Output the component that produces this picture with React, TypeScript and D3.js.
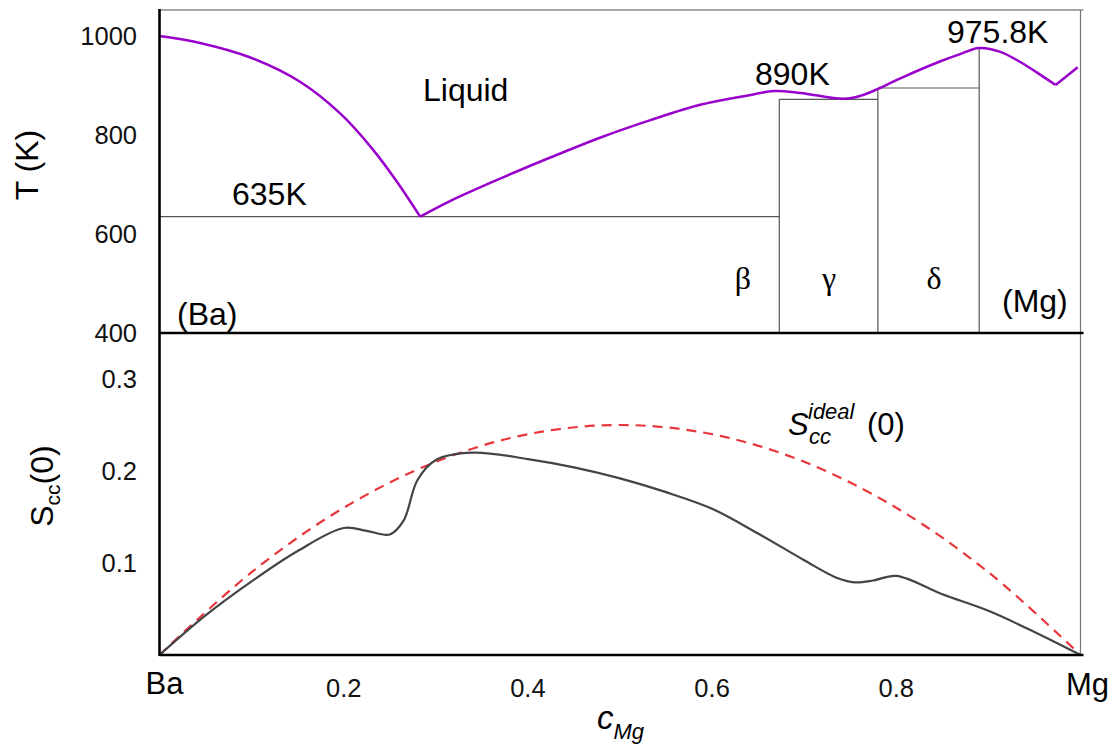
import React from "react";
import * as d3 from "d3";

// ---------- data ----------
// Liquidus (phase diagram, top panel)
const liqC = [0, 0.044, 0.098, 0.153, 0.197, 0.232, 0.258, 0.283, 0.316, 0.37, 0.425, 0.479, 0.533, 0.587, 0.642, 0.667, 0.696, 0.743, 0.761, 0.78, 0.805, 0.848, 0.87, 0.89, 0.913, 0.935, 0.957, 0.973, 0.997];
const liqT = [1000, 986, 957, 907, 842, 770, 705, 635, 667, 712, 755, 795, 830, 861, 881, 889, 885, 873, 879, 893, 915, 949, 964, 975.8, 968, 947, 921, 901, 937];
const liqKinks = [7, 27]; // indices of sharp eutectic minima

// invariant horizontal lines (c from, c to, T)
const hLineC0 = [0, 0.673, 0.78];
const hLineC1 = [0.673, 0.78, 0.89];
const hLineT = [635, 872, 895];
// compound vertical lines (c, top T)
const vLineC = [0.673, 0.78, 0.89];
const vLineT = [872, 895, 975.8];

// Scc(0) (bottom panel)
const sccC = [0, 0.05, 0.1, 0.15, 0.2, 0.225, 0.25, 0.265, 0.28, 0.3, 0.34, 0.4, 0.45, 0.5, 0.55, 0.6, 0.65, 0.7, 0.735, 0.755, 0.775, 0.8, 0.85, 0.9, 0.95, 1];
const sccV = [0, 0.043, 0.08, 0.113, 0.138, 0.135, 0.131, 0.146, 0.19, 0.212, 0.22, 0.213, 0.204, 0.192, 0.177, 0.159, 0.132, 0.103, 0.084, 0.079, 0.081, 0.086, 0.066, 0.048, 0.025, 0];
const idealC = [0, 0.1, 0.2, 0.3, 0.4, 0.5, 0.6, 0.7, 0.8, 0.9, 1];
const idealV = [0, 0.09, 0.16, 0.21, 0.24, 0.25, 0.24, 0.21, 0.16, 0.09, 0];

// tick labels
const tTicks = [1000, 800, 600, 400];
const sTicks = [0.3, 0.2, 0.1];
const cTicks = [0.2, 0.4, 0.6, 0.8];

// ---------- chart ----------
const W = 1117;
const H = 745;
const FONT = "'Liberation Sans', Arial, Helvetica, sans-serif";
const SERIF = "'Liberation Serif', 'Times New Roman', serif";

export default function App() {
  const x = d3.scaleLinear().domain([0, 1]).range([159.5, 1080.5]);
  const yT = d3.scaleLinear().domain([400, 1000]).range([333, 36]);
  const yS = d3.scaleLinear().domain([0, 0.3]).range([655, 379]);

  const tTop = 1052.5;

  // liquidus split at kinks
  const liqPts = liqC.map((c, i) => [c, liqT[i]] as [number, number]);
  const bounds = [0, ...liqKinks, liqPts.length - 1];
  const liqLine = d3
    .line<[number, number]>()
    .x((d) => x(d[0]))
    .y((d) => yT(d[1]))
    .curve(d3.curveCatmullRom.alpha(0.5));
  const liqPaths: string[] = [];
  for (let i = 0; i < bounds.length - 1; i++) {
    liqPaths.push(liqLine(liqPts.slice(bounds[i], bounds[i + 1] + 1)) || "");
  }

  const sccLine = d3
    .line<number>()
    .x((_, i) => x(sccC[i]))
    .y((d) => yS(d))
    .curve(d3.curveCatmullRom.alpha(0.5));
  const idealLine = d3
    .line<number>()
    .x((_, i) => x(idealC[i]))
    .y((d) => yS(d))
    .curve(d3.curveCatmullRom.alpha(0.5));

  const gray = "#555";

  return (
    <svg
      width={W}
      height={H}
      style={{ position: "absolute", left: 0, top: 0, background: "#fff" }}
      fontFamily={FONT}
    >
      <rect x={0} y={0} width={W} height={H} fill="#fff" />

      {/* frame lines */}
      <line x1={x(0)} x2={x(1) + 3} y1={yT(tTop)} y2={yT(tTop)} stroke={gray} strokeWidth={1.2} />
      <line x1={x(1)} x2={x(1)} y1={yT(tTop)} y2={yS(0)} stroke="#777" strokeWidth={1.2} />

      {/* invariant lines */}
      {hLineT.map((t, i) => (
        <line key={"h" + i} x1={x(hLineC0[i])} x2={x(hLineC1[i])} y1={yT(t)} y2={yT(t)} stroke={gray} strokeWidth={1.2} />
      ))}
      {vLineC.map((c, i) => (
        <line key={"v" + i} x1={x(c)} x2={x(c)} y1={yT(400)} y2={yT(vLineT[i])} stroke={gray} strokeWidth={1.2} />
      ))}

      {/* liquidus */}
      {liqPaths.map((p, i) => (
        <path key={"l" + i} d={p} fill="none" stroke="#9900CC" strokeWidth={2.5} strokeLinejoin="round" />
      ))}

      {/* bottom panel curves */}
      <path d={idealLine(idealV) || ""} fill="none" stroke="#E8373C" strokeWidth={2.2} strokeDasharray="10,7" />
      <path d={sccLine(sccV) || ""} fill="none" stroke="#444" strokeWidth={2.2} />

      {/* axes (thick) */}
      <line x1={x(0)} x2={x(0)} y1={yT(tTop) - 1} y2={yS(0) + 1} stroke="#000" strokeWidth={2.6} />
      <line x1={x(0)} x2={x(1) + 3} y1={yT(400)} y2={yT(400)} stroke="#000" strokeWidth={2.6} />
      <line x1={x(0)} x2={x(1) + 3} y1={yS(0)} y2={yS(0)} stroke="#000" strokeWidth={2.6} />

      {/* T ticks */}
      {tTicks.map((t) => (
        <text key={"tt" + t} x={137} y={yT(t)} dy="0.36em" textAnchor="end" fontSize={25.5} fill="#111">
          {t}
        </text>
      ))}
      {/* S ticks */}
      {sTicks.map((s) => (
        <text key={"st" + s} x={137} y={yS(s)} dy="0.36em" textAnchor="end" fontSize={25.5} fill="#111">
          {s.toFixed(1)}
        </text>
      ))}
      {/* c ticks */}
      {cTicks.map((c) => (
        <text key={"ct" + c} x={x(c)} y={697} textAnchor="middle" fontSize={25.5} fill="#111">
          {c.toFixed(1)}
        </text>
      ))}
      <text x={x(0) + 5} y={694} textAnchor="middle" fontSize={31} fill="#000">Ba</text>
      <text x={x(1) + 7} y={695} textAnchor="middle" fontSize={31} fill="#000">Mg</text>

      {/* axis titles */}
      <text transform="translate(38,165) rotate(-90)" textAnchor="middle" fontSize={32} fill="#000">
        T (K)
      </text>
      <text transform="translate(53,486) rotate(-90)" textAnchor="middle" fontSize={32} fill="#000">
        S
        <tspan fontSize={21} dy={7}>cc</tspan>
        <tspan fontSize={32} dy={-7}>(0)</tspan>
      </text>
      <text x={597} y={729} fontSize={33} fontStyle="italic" fill="#000">
        c
        <tspan fontSize={22} dy={10}>Mg</tspan>
      </text>

      {/* annotations */}
      <text x={423} y={101} fontSize={32} fill="#000">Liquid</text>
      <text x={232} y={205} fontSize={32} fill="#000">635K</text>
      <text x={755} y={85} fontSize={32} fill="#000">890K</text>
      <text x={947} y={43} fontSize={32} fill="#000">975.8K</text>
      <text x={177} y={325} fontSize={32} fill="#000">(Ba)</text>
      <text x={1002} y={312} fontSize={32} fill="#000">(Mg)</text>
      <text x={743} y={289} textAnchor="middle" fontSize={32} fontFamily={SERIF} fill="#000">β</text>
      <text x={829} y={289} textAnchor="middle" fontSize={32} fontFamily={SERIF} fill="#000">γ</text>
      <text x={934} y={289} textAnchor="middle" fontSize={32} fontFamily={SERIF} fill="#000">δ</text>

      {/* ideal label */}
      <text x={788} y={435} fontSize={31} fontStyle="italic" fill="#000">S</text>
      <text x={808} y={419} fontSize={22} fontStyle="italic" fill="#000">ideal</text>
      <text x={809} y={444} fontSize={22} fontStyle="italic" fill="#000">cc</text>
      <text x={867} y={435} fontSize={31} fill="#000">(0)</text>
    </svg>
  );
}
